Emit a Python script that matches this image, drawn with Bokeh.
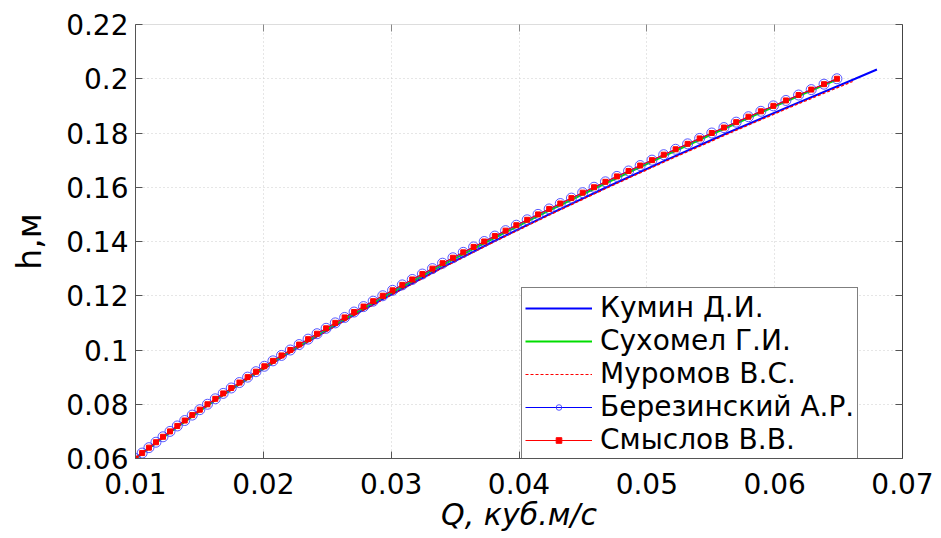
from bokeh.plotting import figure
from bokeh.models import (Range1d, FixedTicker, LinearAxis, Legend, LegendItem,
                          CustomJSTickFormatter)
from bokeh.embed import file_html
from bokeh.resources import INLINE

# ---- axes ticks ----
x_ticks = [0.01, 0.02, 0.03, 0.04, 0.05, 0.06, 0.07]
y_ticks = [0.06, 0.08, 0.10, 0.12, 0.14, 0.16, 0.18, 0.20, 0.22]

# ---- series (Q in m3/s, h in m) ----
h_coarse = [0.06, 0.07, 0.08, 0.09, 0.10, 0.11, 0.12, 0.13, 0.14, 0.15,
            0.16, 0.17, 0.18, 0.19, 0.20]

h_kumin = h_coarse + [0.2034]
q_kumin = [0.01000, 0.01275, 0.01575, 0.01895, 0.02238, 0.02600, 0.02982,
           0.03382, 0.03800, 0.04235, 0.04685, 0.05150, 0.05630, 0.06125,
           0.06630, 0.06800]

q_sukhomel = [0.01000, 0.01280, 0.01578, 0.01895, 0.02231, 0.02585, 0.02957,
              0.03347, 0.03753, 0.04175, 0.04613, 0.05065, 0.05531, 0.06010,
              0.06500]

h_muromov = [0.06, 0.07, 0.08, 0.09, 0.10, 0.11, 0.12, 0.13, 0.14, 0.15,
             0.16, 0.17, 0.18, 0.19, 0.199]
q_muromov = [0.01000, 0.01277, 0.01578, 0.01900, 0.02244, 0.02607, 0.02990,
             0.03392, 0.03812, 0.04249, 0.04701, 0.05168, 0.05650, 0.06147,
             0.06610]

h_fine = [0.060, 0.062, 0.064, 0.066, 0.068, 0.070, 0.072, 0.074, 0.076, 0.078,
          0.080, 0.082, 0.084, 0.086, 0.088, 0.090, 0.092, 0.094, 0.096, 0.098,
          0.100, 0.102, 0.104, 0.106, 0.108, 0.110, 0.112, 0.114, 0.116, 0.118,
          0.120, 0.122, 0.124, 0.126, 0.128, 0.130, 0.132, 0.134, 0.136, 0.138,
          0.140, 0.142, 0.144, 0.146, 0.148, 0.150, 0.152, 0.154, 0.156, 0.158,
          0.160, 0.162, 0.164, 0.166, 0.168, 0.170, 0.172, 0.174, 0.176, 0.178,
          0.180, 0.182, 0.184, 0.186, 0.188, 0.190, 0.192, 0.194, 0.196, 0.198,
          0.200]

q_berezinsky = [0.01000, 0.01052, 0.01105, 0.01160, 0.01215, 0.01270, 0.01327,
                0.01385, 0.01444, 0.01503, 0.01563, 0.01624, 0.01686, 0.01749,
                0.01813, 0.01877, 0.01942, 0.02008, 0.02075, 0.02142, 0.02211,
                0.02280, 0.02350, 0.02420, 0.02491, 0.02563, 0.02636, 0.02710,
                0.02784, 0.02859, 0.02934, 0.03011, 0.03087, 0.03165, 0.03244,
                0.03323, 0.03402, 0.03483, 0.03564, 0.03645, 0.03728, 0.03811,
                0.03895, 0.03979, 0.04064, 0.04149, 0.04236, 0.04323, 0.04410,
                0.04498, 0.04587, 0.04676, 0.04766, 0.04857, 0.04948, 0.05040,
                0.05132, 0.05225, 0.05319, 0.05413, 0.05508, 0.05603, 0.05699,
                0.05795, 0.05892, 0.05990, 0.06088, 0.06187, 0.06286, 0.06386,
                0.06487]

q_smyslov = [0.01000, 0.01052, 0.01105, 0.01160, 0.01215, 0.01270, 0.01327,
             0.01385, 0.01444, 0.01503, 0.01563, 0.01624, 0.01686, 0.01749,
             0.01813, 0.01877, 0.01942, 0.02008, 0.02075, 0.02142, 0.02211,
             0.02280, 0.02350, 0.02420, 0.02491, 0.02563, 0.02636, 0.02710,
             0.02784, 0.02859, 0.02934, 0.03011, 0.03087, 0.03165, 0.03244,
             0.03323, 0.03402, 0.03483, 0.03564, 0.03645, 0.03728, 0.03811,
             0.03895, 0.03979, 0.04064, 0.04149, 0.04236, 0.04323, 0.04410,
             0.04498, 0.04587, 0.04676, 0.04766, 0.04857, 0.04948, 0.05040,
             0.05132, 0.05225, 0.05319, 0.05413, 0.05508, 0.05603, 0.05699,
             0.05795, 0.05892, 0.05990, 0.06088, 0.06187, 0.06286, 0.06386,
             0.06487]

labels = ["Кумин Д.И.", "Сухомел Г.И.", "Муромов В.С.",
          "Березинский А.Р.", "Смыслов В.В."]

FONT = "DejaVu Sans"

p = figure(width=941, height=538,
           x_range=Range1d(0.01, 0.07), y_range=Range1d(0.06, 0.22),
           output_backend="svg", toolbar_location=None,
           min_border_left=135, min_border_right=39,
           min_border_top=24, min_border_bottom=80)
p.background_fill_color = "white"
p.border_fill_color = "white"
p.outline_line_color = None

fmt = CustomJSTickFormatter(code="return String(parseFloat(tick.toFixed(4)));")
blank = CustomJSTickFormatter(code="return '';")

for ax, ticks in ((p.xaxis[0], x_ticks), (p.yaxis[0], y_ticks)):
    ax.ticker = FixedTicker(ticks=ticks)
    ax.formatter = fmt
    ax.axis_line_color = "#555555"
    ax.major_tick_line_color = "#555555"
    ax.major_tick_in = 7
    ax.major_tick_out = 0
    ax.minor_tick_line_color = None
    ax.major_label_text_font = FONT
    ax.major_label_text_font_size = "28px"
    ax.major_label_text_color = "black"
    ax.axis_label_text_font = FONT
    ax.axis_label_text_color = "black"

p.xaxis.major_label_standoff = 14
p.xaxis.axis_label = "Q, куб.м/с"
p.xaxis.axis_label_text_font_style = "italic"
p.xaxis.axis_label_text_font_size = "30px"
p.xaxis.axis_label_standoff = 0

p.yaxis.major_label_standoff = 7
p.yaxis.axis_label = "h,м"
p.yaxis.axis_label_text_font_style = "normal"
p.yaxis.axis_label_text_font_size = "33px"
p.yaxis.axis_label_standoff = 14

right_ax = LinearAxis(ticker=FixedTicker(ticks=y_ticks), formatter=blank,
                      major_label_text_font_size="10px",
                      major_tick_in=7, major_tick_out=0, minor_tick_line_color=None,
                      axis_line_color="#444444", major_tick_line_color="#555555",
                      major_label_standoff=0)
p.add_layout(right_ax, "right")
top_ax = LinearAxis(ticker=FixedTicker(ticks=x_ticks), formatter=blank,
                    major_label_text_font_size="10px",
                    major_tick_in=7, major_tick_out=0, minor_tick_line_color=None,
                    axis_line_color="#dddddd", major_tick_line_color="#888888",
                    major_label_standoff=0)
p.add_layout(top_ax, "above")

p.xgrid.ticker = FixedTicker(ticks=x_ticks)
p.ygrid.ticker = FixedTicker(ticks=y_ticks)
for g in (p.xgrid[0], p.ygrid[0]):
    g.grid_line_color = "#cccccc"
    g.grid_line_dash = "1 3"
    g.grid_line_width = 1

r_k = p.line(q_kumin, h_kumin, line_color="#0000ff", line_width=2)
r_su = p.line(q_sukhomel, h_coarse, line_color="#00dd00", line_width=2)
r_m = p.line(q_muromov, h_muromov, line_color="#ff0000", line_width=1.2, line_dash="3 2")
r_bl = p.line(q_berezinsky, h_fine, line_color="#0000ff", line_width=1)
r_bp = p.scatter(q_berezinsky, h_fine, marker="circle", size=10, fill_color=None,
                 line_color="#3a3aff", line_width=1, line_alpha=0.85)
r_sl = p.line(q_smyslov, h_fine, line_color="#ff0000", line_width=1)
r_sp = p.scatter(q_smyslov, h_fine, marker="square", size=5, fill_color="#ff0000",
                 line_color="#ff0000")

legend = Legend(items=[
    LegendItem(label=labels[0], renderers=[r_k]),
    LegendItem(label=labels[1], renderers=[r_su]),
    LegendItem(label=labels[2], renderers=[r_m]),
    LegendItem(label=labels[3], renderers=[r_bl, r_bp]),
    LegendItem(label=labels[4], renderers=[r_sl, r_sp]),
], location=(386, -2))
legend.label_text_font = FONT
legend.label_text_font_size = "28px"
legend.label_text_color = "black"
legend.glyph_width = 67
legend.glyph_height = 14
legend.label_height = 31
legend.label_standoff = 8
legend.spacing = 0
legend.padding = 3
legend.margin = 0
legend.border_line_color = "black"
legend.border_line_width = 1
legend.background_fill_color = "white"
legend.background_fill_alpha = 1.0
p.add_layout(legend, "center")

open("out.html", "w").write(file_html(p, INLINE))
